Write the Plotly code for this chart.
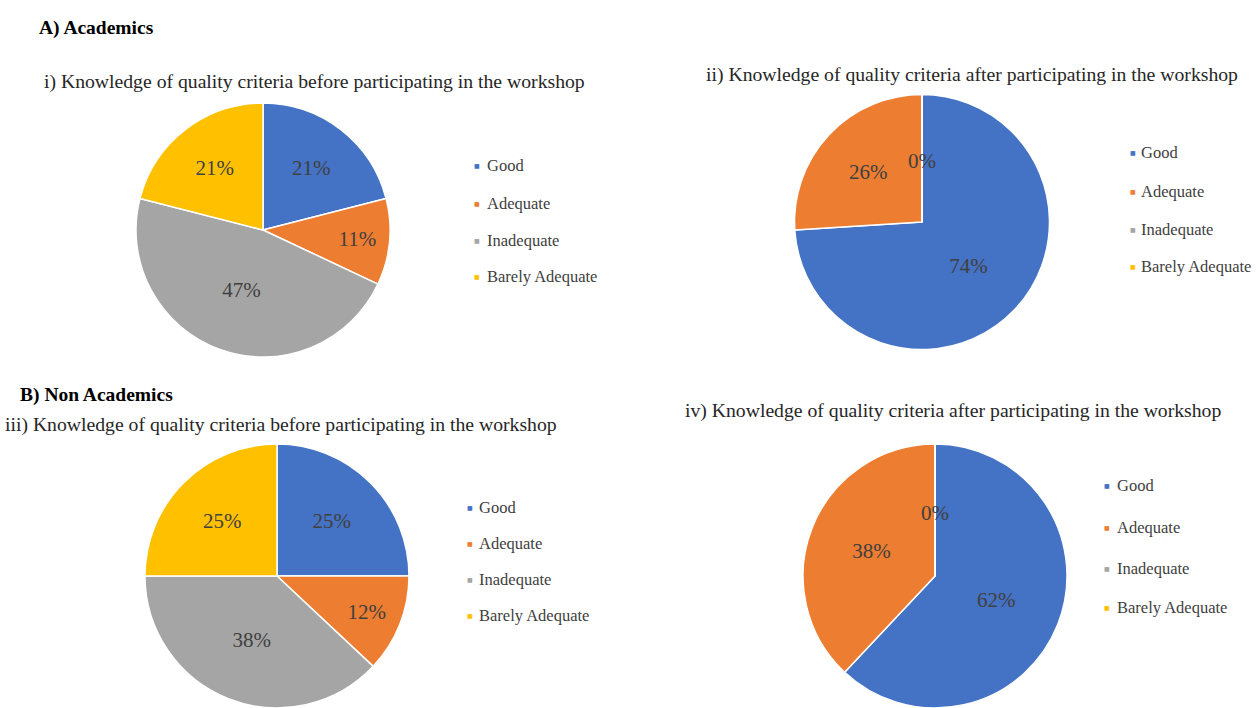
import plotly.graph_objects as go

W, H = 1256, 708

categories = ["Good", "Adequate", "Inadequate", "Barely Adequate"]
colors = ["#4472C4", "#ED7D31", "#A5A5A5", "#FFC000"]

acad_before = [21, 11, 47, 21]
acad_after = [74, 26, 0, 0]
nonacad_before = [25, 12, 38, 25]
nonacad_after = [62, 38, 0, 0]

titles = [
    "i) Knowledge of quality criteria before participating in the workshop",
    "ii) Knowledge of quality criteria after participating in the workshop",
    "iii) Knowledge of quality criteria before participating in the workshop",
    "iv) Knowledge of quality criteria after participating in the workshop",
]
section_titles = ["A) Academics", "B) Non Academics"]

SERIF = "Liberation Serif, Times New Roman, serif"
LABEL_COLOR = "#404040"

# pie geometry in pixels: (cx, cy, r)
geo = [(263, 230, 127), (922, 222, 127.5), (277, 576, 132), (935, 576, 132)]
data_sets = [acad_before, acad_after, nonacad_before, nonacad_after]

fig = go.Figure()
annotations = []

for (cx, cy, r), vals in zip(geo, data_sets):
    dom_x = [(cx - r) / W, (cx + r) / W]
    dom_y = [max(0, 1 - (cy + r) / H), min(1, 1 - (cy - r) / H)]
    fig.add_trace(go.Pie(
        labels=categories,
        values=vals,
        sort=False,
        direction="clockwise",
        rotation=0,
        marker=dict(colors=colors, line=dict(color="white", width=1.5)),
        texttemplate="%{percent:.0%}",
        textposition="inside",
        insidetextorientation="horizontal",
        textfont=dict(family=SERIF, size=21, color=LABEL_COLOR),
        domain=dict(x=dom_x, y=dom_y),
        showlegend=False,
        hoverinfo="label+value",
    ))
    # zero-value slices: Excel shows their 0% label at the 12 o'clock boundary
    if any(v == 0 for v in vals):
        annotations.append(dict(
            text="0%", x=cx / W, y=1 - (cy - 0.48 * r) / H,
            xref="paper", yref="paper", xanchor="center", yanchor="middle",
            showarrow=False, font=dict(family=SERIF, size=21, color=LABEL_COLOR),
        ))

# legends drawn as small coloured squares + labels (marker x, text x, row y's)
legend_layout = [
    (477, 485, [165, 203, 240, 277]),
    (1133, 1139, [153, 192, 230, 266]),
    (470, 477, [507, 543, 579, 615]),
    (1107, 1115, [485, 527, 568, 607]),
]
for mx, tx, rows in legend_layout:
    for cat, col, ry in zip(categories, colors, rows):
        annotations.append(dict(
            text="■", x=mx / W, y=1 - ry / H, xref="paper", yref="paper",
            xanchor="center", yanchor="middle", showarrow=False,
            font=dict(family="DejaVu Sans", size=6, color=col),
        ))
        annotations.append(dict(
            text=cat, x=tx / W, y=1 - ry / H, xref="paper", yref="paper",
            xanchor="left", yanchor="middle", showarrow=False,
            font=dict(family=SERIF, size=16.5, color="#404040"),
        ))

title_pos = [(314, 82), (972, 75), (281, 424), (953, 410)]
for t, (tx, ty) in zip(titles, title_pos):
    annotations.append(dict(
        text=t, x=tx / W, y=1 - ty / H, xref="paper", yref="paper",
        xanchor="center", yanchor="middle", showarrow=False,
        font=dict(family=SERIF, size=19.7, color="#262626"),
    ))
for t, (tx, ty) in zip(section_titles, [(37, 28), (18, 395)]):
    annotations.append(dict(
        text="<b>" + t + "</b>", x=tx / W, y=1 - ty / H, xref="paper", yref="paper",
        xanchor="left", yanchor="middle", showarrow=False,
        font=dict(family=SERIF, size=19.5, color="#000000"),
    ))

fig.update_layout(
    width=W, height=H,
    margin=dict(l=0, r=0, t=0, b=0),
    paper_bgcolor="white", plot_bgcolor="white",
    showlegend=False,
    annotations=annotations,
)

fig.write_html("out.html")
